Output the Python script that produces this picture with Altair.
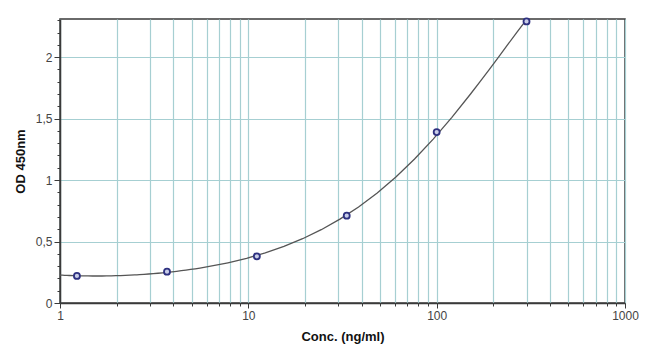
import math
import altair as alt
import pandas as pd

# Standard dilution series (ng/ml) and measured OD 450nm
conc = [1.23, 3.7, 11.1, 33.3, 100, 300]
od = [0.22, 0.255, 0.38, 0.71, 1.39, 2.29]

# Axis tick positions
x_ticks = [m * d for d in [1, 10, 100] for m in range(1, 10)] + [1000]
x_major_labels = ["1", "10", "100", "1000"]
y_ticks = [round(i * 0.1, 1) for i in range(0, 24)]

df = pd.DataFrame({"conc": conc, "od": od})

x_scale = alt.Scale(type="log", domain=[1, 1000], nice=False)
y_scale = alt.Scale(domain=[0, 2.31], nice=False)

major_x = "indexof(" + str(x_major_labels) + ", datum.label) >= 0"
major_y = "round(datum.value*10) % 5 == 0"

x_axis = alt.Axis(
    title="Conc. (ng/ml)",
    values=x_ticks,
    format="d",
    labelExpr=major_x + " ? datum.label : ''",
    tickSize={"condition": {"test": major_x, "value": 5}, "value": 3},
    grid=True,
    gridColor="#a6cfd2",
    gridWidth=1.2,
    labelFlush=False,
    labelOverlap=False,
    titlePadding=9,
)
y_axis = alt.Axis(
    title="OD 450nm",
    values=y_ticks,
    labelExpr=major_y + " ? replace(format(datum.value, '~g'), '.', ',') : ''",
    tickSize={"condition": {"test": major_y, "value": 6}, "value": 3},
    grid=True,
    gridColor="#a6cfd2",
    gridWidth=1.2,
    gridOpacity={"condition": {"test": major_y + " && datum.value > 0", "value": 1}, "value": 0},
    labelOverlap=False,
    titlePadding=8,
)

base = alt.Chart(df)

curve = (
    base.transform_calculate(logc="log(datum.conc)/LN10", logod="log(datum.od)")
    .transform_regression("logc", "logod", method="poly", order=3, extent=[0, math.log10(max(conc))])
    .transform_calculate(conc="pow(10, datum.logc)", od="exp(datum.logod)")
    .mark_line(color="#555555", strokeWidth=1.3)
    .encode(
        x=alt.X("conc:Q", scale=x_scale, axis=x_axis),
        y=alt.Y("od:Q", scale=y_scale, axis=y_axis),
    )
)

points = base.mark_point(
    shape="circle", filled=True, fill="#c8cde8", stroke="#2e3180", strokeWidth=1.8, size=36, opacity=1
).encode(
    x=alt.X("conc:Q", scale=x_scale, axis=x_axis),
    y=alt.Y("od:Q", scale=y_scale, axis=y_axis),
)

chart = (
    alt.layer(curve, points)
    .properties(
        width=565,
        height=284,
        padding={"left": 6, "top": 6, "right": 0, "bottom": 3},
        background="white",
    )
    .configure_view(stroke="#3a3a3a", strokeWidth=1.5)
    .configure_axis(
        domainColor="#3a3a3a",
        domainWidth=1.5,
        tickColor="#3a3a3a",
        labelColor="#444444",
        labelFont="Liberation Sans",
        labelFontSize=12,
        titleFont="Liberation Sans",
        titleFontSize=13,
        titleFontWeight="bold",
        titleColor="#111111",
    )
)

chart.save("out.html", embed_options={"renderer": "svg", "actions": False})
